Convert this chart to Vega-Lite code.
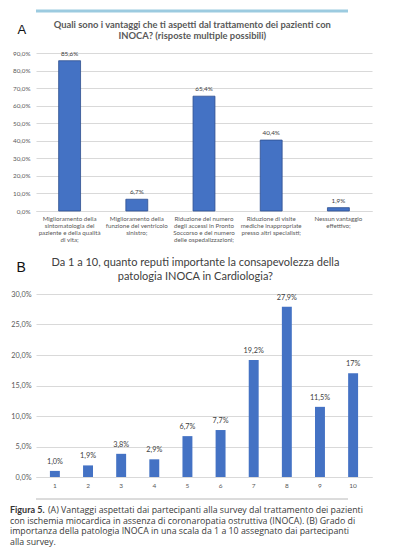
{
  "$schema": "https://vega.github.io/schema/vega-lite/v6.json",
  "padding": {"left": 10, "top": 9, "right": 0, "bottom": 0},
  "background": "white",
  "config": {
    "view": {"stroke": null},
    "font": "Lato",
    "axis": {"labelFont": "Lato", "titleFont": "Liberation Sans"}
  },
  "spacing": 13,
  "vconcat": [
    {
      "spacing": 7,
      "vconcat": [
        {
          "width": 338,
          "height": 2,
          "data": {"values": [{"v": 0}]},
          "mark": {"type": "rule", "color": "#9ccbe0", "strokeWidth": 3, "xOffset": -26},
          "encoding": {
            "y": {"field": "v", "type": "quantitative", "axis": null, "scale": {"domain": [0, 1]}}
          }
        },
        {
          "width": 336,
          "height": 158,
          "title": {
            "text": ["Quali sono i vantaggi che ti aspetti dal trattamento dei pazienti con", "INOCA? (risposte multiple possibili)"],
            "fontSize": 9.4,
            "fontWeight": "bold",
            "color": "#595959",
            "lineHeight": 10.5,
            "anchor": "middle",
            "frame": "bounds",
            "offset": -18
          },
          "data": {
            "values": [
              {"cat": "Miglioramento della|sintomatologia del|paziente e della qualità|di vita;", "v": 85.6, "label": "85,6%"},
              {"cat": "Miglioramento della|funzione del ventricolo|sinistro;", "v": 6.7, "label": "6,7%"},
              {"cat": "Riduzione del numero|degli accessi in Pronto|Soccorso e del numero|delle ospedalizzazioni;", "v": 65.4, "label": "65,4%"},
              {"cat": "Riduzione di visite|mediche inappropriate|presso altri specialisti;", "v": 40.4, "label": "40,4%"},
              {"cat": "Nessun vantaggio|effettivo;", "v": 1.9, "label": "1,9%"}
            ]
          },
          "encoding": {
            "x": {
              "field": "cat", "type": "nominal", "sort": null,
              "scale": {"paddingInner": 0.674, "paddingOuter": 0.337},
              "axis": {
                "title": null, "labelAngle": 0, "labelExpr": "split(datum.label, '|')",
                "labelFontSize": 6.2, "labelLineHeight": 7.3, "labelColor": "#595959",
                "ticks": false, "domainColor": "#d9d9d9", "labelPadding": 4, "labelLimit": 120
              }
            },
            "y": {
              "field": "v", "type": "quantitative",
              "scale": {"domain": [0, 90], "nice": false},
              "axis": {
                "values": [0, 10, 20, 30, 40, 50, 60, 70, 80, 90],
                "labelExpr": "replace(format(datum.value, '.1f'), '.', ',') + '%'",
                "labelFontSize": 6.3, "labelColor": "#595959", "labelPadding": 6,
                "ticks": false, "domain": false, "gridColor": "#d9d9d9",
                "title": "A", "titleAngle": 0, "titleAlign": "left", "titleBaseline": "middle",
                "titleX": -19, "titleY": -24, "titleFontSize": 13, "titleFontWeight": "normal", "titleColor": "#111111"
              }
            }
          },
          "layer": [
            {"mark": {"type": "bar", "color": "#4472c4", "stroke": "#2f4f8f", "strokeWidth": 0.8}},
            {
              "mark": {"type": "text", "baseline": "bottom", "dy": -4, "fontSize": 6.3, "color": "#404040"},
              "encoding": {"text": {"field": "label"}}
            }
          ]
        }
      ]
    },
    {
      "spacing": 9,
      "vconcat": [
        {
          "width": 336,
          "height": 183,
          "title": {
            "text": ["Da 1 a 10, quanto reputi importante la consapevolezza della", "patologia INOCA in Cardiologia?"],
            "fontSize": 11,
            "fontWeight": "normal",
            "color": "#404040",
            "lineHeight": 14,
            "anchor": "middle",
            "frame": "bounds",
            "dx": 4,
            "offset": -22
          },
          "data": {
            "values": [
              {"k": "1", "v": 1.0, "label": "1,0%"},
              {"k": "2", "v": 1.9, "label": "1,9%"},
              {"k": "3", "v": 3.8, "label": "3,8%"},
              {"k": "4", "v": 2.9, "label": "2,9%"},
              {"k": "5", "v": 6.7, "label": "6,7%"},
              {"k": "6", "v": 7.7, "label": "7,7%"},
              {"k": "7", "v": 19.2, "label": "19,2%"},
              {"k": "8", "v": 27.9, "label": "27,9%"},
              {"k": "9", "v": 11.5, "label": "11,5%"},
              {"k": "10", "v": 17, "label": "17%"}
            ]
          },
          "encoding": {
            "x": {
              "field": "k", "type": "nominal", "sort": null,
              "scale": {"paddingInner": 0.7, "paddingOuter": 0.42},
              "axis": {
                "title": null, "labelAngle": 0, "labelFontSize": 6.5, "labelColor": "#595959",
                "ticks": false, "domainColor": "#d9d9d9", "labelPadding": 5
              }
            },
            "y": {
              "field": "v", "type": "quantitative",
              "scale": {"domain": [0, 30], "nice": false},
              "axis": {
                "values": [0, 5, 10, 15, 20, 25, 30],
                "labelExpr": "replace(format(datum.value, '.1f'), '.', ',') + '%'",
                "labelFontSize": 7.3, "labelColor": "#595959", "labelPadding": 5,
                "ticks": false, "domain": false, "gridColor": "#d9d9d9",
                "title": "B", "titleAngle": 0, "titleAlign": "left", "titleBaseline": "middle",
                "titleX": -20, "titleY": -27, "titleFontSize": 14, "titleFontWeight": "normal", "titleColor": "#111111"
              }
            }
          },
          "layer": [
            {"mark": {"type": "bar", "color": "#4472c4"}},
            {
              "mark": {"type": "text", "baseline": "bottom", "dy": -5, "fontSize": 7.3, "color": "#404040"},
              "encoding": {"text": {"field": "label"}}
            }
          ]
        },
        {
          "spacing": 6,
          "vconcat": [
            {
              "width": 338,
              "height": 1,
              "data": {"values": [{"v": 0}]},
              "mark": {"type": "rule", "color": "#b8b8b8", "strokeWidth": 1, "xOffset": -26},
              "encoding": {
                "y": {"field": "v", "type": "quantitative", "axis": null, "scale": {"domain": [0, 1]}}
              }
            },
            {
              "width": 338,
              "height": 31.5,
              "data": {
                "values": [
                  {"line": 1, "text": "(A) Vantaggi aspettati dai partecipanti alla survey dal trattamento dei pazienti"},
                  {"line": 2, "text": "con ischemia miocardica in assenza di coronaropatia ostruttiva (INOCA). (B) Grado di"},
                  {"line": 3, "text": "importanza della patologia INOCA in una scala da 1 a 10 assegnato dai partecipanti"},
                  {"line": 4, "text": "alla survey."}
                ]
              },
              "encoding": {
                "x": {"datum": 0, "type": "quantitative", "axis": null, "scale": {"domain": [0, 1]}},
                "y": {"field": "line", "type": "ordinal", "axis": null, "scale": {"type": "point", "padding": 0}}
              },
              "layer": [
                {
                  "transform": [{"filter": "datum.line > 1"}],
                  "mark": {"type": "text", "align": "left", "baseline": "middle", "font": "Open Sans", "fontSize": 8.8, "color": "#3a3a3a", "dx": -26},
                  "encoding": {"text": {"field": "text"}}
                },
                {
                  "transform": [{"filter": "datum.line == 1"}],
                  "mark": {"type": "text", "align": "left", "baseline": "middle", "font": "Open Sans", "fontSize": 8.8, "color": "#3a3a3a", "dx": 12},
                  "encoding": {"text": {"field": "text"}}
                },
                {
                  "data": {"values": [{"line": 1, "text": "Figura 5."}]},
                  "mark": {"type": "text", "align": "left", "baseline": "middle", "fontSize": 9, "fontWeight": "bold", "color": "#333333", "dx": -26},
                  "encoding": {"text": {"field": "text"}}
                }
              ]
            }
          ]
        }
      ]
    }
  ]
}
